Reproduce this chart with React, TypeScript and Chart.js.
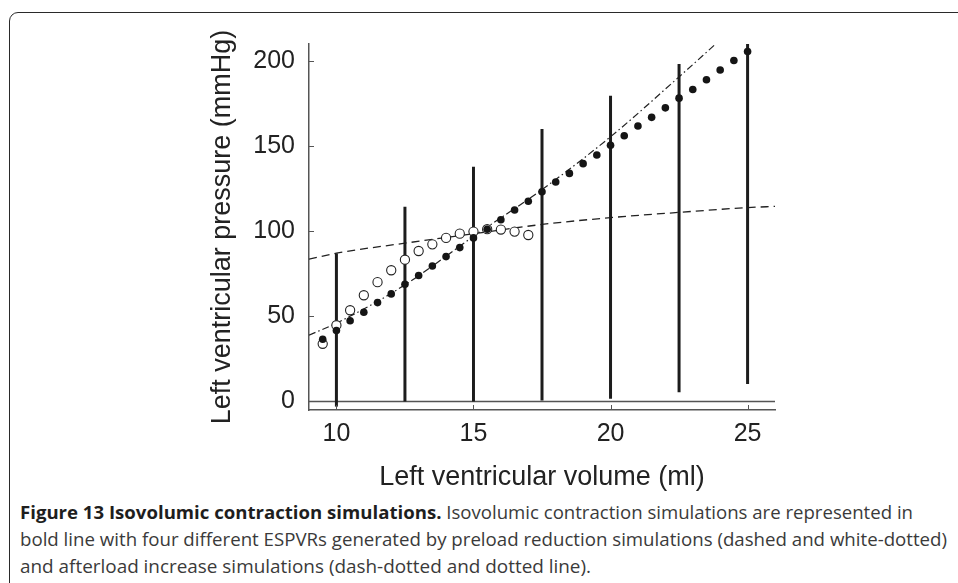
import React, { useEffect, useLayoutEffect, useRef } from "react";
import { Chart, registerables } from "chart.js";

Chart.register(...registerables);

// ---- Axis ticks ----
const xTicks = [10, 15, 20, 25];
const yTicks = [0, 50, 100, 150, 200];

// ---- Isovolumic contraction simulations (bold vertical lines) ----
const isoVolumes = [10, 12.5, 15, 17.5, 20, 22.5, 25];
const isoBottoms = [-3, 0, 0, 0.6, 1.6, 5.5, 10.2];
const isoTops = [87, 114.4, 137.9, 160, 179.6, 198.2, 210];

// ---- Preload reduction ESPVR (dashed) ----
const preloadLineX = [9, 10, 12.5, 15, 17.5, 20, 22.5, 25, 26];
const preloadLineY = [83.6, 87.1, 93, 98.5, 104, 108, 111.1, 113.9, 114.6];

// ---- Afterload increase ESPVR (dash-dotted) ----
const afterloadLineX = [9, 10, 12.5, 15, 17.5, 20, 22.5, 23.8];
const afterloadLineY = [39, 46, 68.5, 97, 124.5, 155.5, 190.7, 209.5];

// ---- Preload reduction points (white dots) ----
const openX = [9.5, 10, 10.5, 11, 11.5, 12, 12.5, 13, 13.5, 14, 14.5, 15, 15.5, 16, 16.5, 17];
const openY = [33.9, 44.8, 53.6, 62.4, 70.1, 77.1, 83.3, 88.4, 92.3, 96.1, 98.6, 99.8, 101.2, 101, 99.8, 97.8];

// ---- Afterload increase points (black dots) ----
const filledX = [
  9.5, 10, 10.5, 11, 11.5, 12, 12.5, 13, 13.5, 14, 14.5, 15, 15.5, 16, 16.5, 17,
  17.5, 18, 18.5, 19, 19.5, 20, 20.5, 21, 21.5, 22, 22.5, 23, 23.5, 24, 24.5, 25,
];
const filledY = [
  36.6, 41.7, 47.4, 52.4, 58.1, 63.2, 68.9, 74, 79.6, 85.1, 90.4, 96.1, 101.2, 106.8, 112.5, 117.6,
  123.2, 128.9, 134, 139.7, 144.8, 150.5, 156.1, 161.8, 166.9, 172.5, 178.2, 183.3, 189, 194.7, 200.3, 205.6,
];

const zeroLineX = [9, 26];

const FONT = "'Liberation Sans', Arial, Helvetica, sans-serif";

const pts = (xs: number[], ys: number[]) => xs.map((x, i) => ({ x, y: ys[i] }));

const inwardTicks = {
  id: "inwardTicks",
  afterDraw(chart: any) {
    const { ctx, chartArea, scales } = chart;
    ctx.save();
    ctx.strokeStyle = "#555";
    ctx.lineWidth = 1;
    for (const v of xTicks) {
      const px = Math.round(scales.x.getPixelForValue(v)) + 0.5;
      ctx.beginPath();
      ctx.moveTo(px, chartArea.bottom);
      ctx.lineTo(px, chartArea.bottom - 5);
      ctx.stroke();
    }
    for (const v of yTicks) {
      const py = Math.round(scales.y.getPixelForValue(v)) + 0.5;
      ctx.beginPath();
      ctx.moveTo(chartArea.left, py);
      ctx.lineTo(chartArea.left + 5, py);
      ctx.stroke();
    }
    ctx.restore();
  },
};

function FitLine({ top, width, children }: { top: number; width: number; children: React.ReactNode }) {
  const ref = useRef<HTMLDivElement>(null);
  useLayoutEffect(() => {
    const el = ref.current;
    if (!el) return;
    el.style.transform = "none";
    const w = el.getBoundingClientRect().width;
    if (w > 0) el.style.transform = `scaleX(${width / w})`;
  }, [width]);
  return (
    <div
      ref={ref}
      style={{
        position: "absolute",
        left: 20,
        top,
        whiteSpace: "nowrap",
        transformOrigin: "left top",
        fontFamily: "'Open Sans', 'Noto Sans', sans-serif",
        fontSize: 18.5,
        lineHeight: "24px",
        color: "#3a3a3a",
      }}
    >
      {children}
    </div>
  );
}

const CANVAS_W = 600;
const CANVAS_H = 475;

export default function App() {
  const canvasRef = useRef<HTMLCanvasElement>(null);

  useEffect(() => {
    if (!canvasRef.current) return;
    const isoDatasets = isoVolumes.map((v, i) => ({
      type: "scatter" as const,
      data: [
        { x: v, y: isoBottoms[i] },
        { x: v, y: isoTops[i] },
      ],
      showLine: true,
      borderColor: "#1c1c1c",
      borderWidth: 3,
      pointRadius: 0,
      order: 2,
    }));

    const chart = new Chart(canvasRef.current, {
      type: "scatter",
      data: {
        datasets: [
          {
            data: pts(filledX, filledY),
            pointRadius: 3.8,
            pointBackgroundColor: "#151515",
            pointBorderColor: "#151515",
            pointBorderWidth: 0,
            showLine: false,
            order: 0,
          },
          {
            data: pts(openX, openY),
            pointRadius: 4.6,
            pointBackgroundColor: "#ffffff",
            pointBorderColor: "#222",
            pointBorderWidth: 1.1,
            showLine: false,
            order: 1,
          },
          ...isoDatasets,
          {
            data: pts(preloadLineX, preloadLineY),
            showLine: true,
            borderColor: "#222",
            borderWidth: 1.3,
            borderDash: [8, 5],
            pointRadius: 0,
            cubicInterpolationMode: "monotone",
            order: 3,
          },
          {
            data: pts(afterloadLineX, afterloadLineY),
            showLine: true,
            borderColor: "#222",
            borderWidth: 1.2,
            borderDash: [7, 3, 1.5, 3],
            pointRadius: 0,
            cubicInterpolationMode: "monotone",
            order: 3,
          },
          {
            data: zeroLineX.map((x) => ({ x, y: 0 })),
            showLine: true,
            borderColor: "#555",
            borderWidth: 1.3,
            pointRadius: 0,
            order: 4,
          },
        ] as any,
      },
      options: {
        animation: false,
        responsive: false,
        devicePixelRatio: 1,
        layout: { padding: { top: 24, right: 15, left: 0, bottom: 0 } },
        plugins: {
          legend: { display: false },
          tooltip: { enabled: false },
        },
        scales: {
          x: {
            type: "linear",
            min: 9,
            max: 26,
            afterBuildTicks: (s: any) => {
              s.ticks = xTicks.map((v) => ({ value: v }));
            },
            afterFit: (s: any) => {
              s.height = 85;
              s.paddingLeft = 0;
              s.paddingRight = 0;
            },
            grid: { display: false, drawTicks: false },
            border: { display: true, color: "#555", width: 1.5 },
            ticks: {
              padding: 9,
              color: "#222",
              maxRotation: 0,
              font: { family: FONT, size: 25 },
            },
            title: {
              display: true,
              text: "Left ventricular volume (ml)",
              color: "#222",
              font: { family: FONT, size: 27 },
              padding: { top: 0, bottom: 1 },
            },
          },
          y: {
            type: "linear",
            min: -5,
            max: 210,
            afterBuildTicks: (s: any) => {
              s.ticks = yTicks.map((v) => ({ value: v }));
            },
            afterFit: (s: any) => {
              s.width = 119;
              s.paddingTop = 0;
              s.paddingBottom = 0;
            },
            grid: { display: false, drawTicks: false },
            border: { display: true, color: "#555", width: 1.5 },
            ticks: {
              padding: 14,
              color: "#222",
              font: { family: FONT, size: 25 },
            },
            title: {
              display: true,
              text: "Left ventricular pressure (mmHg)",
              color: "#222",
              font: { family: FONT, size: 27 },
              padding: { top: 16, bottom: 0 },
            },
          },
        },
      } as any,
      plugins: [inwardTicks],
    });

    return () => chart.destroy();
  }, []);

  return (
    <div
      style={{
        position: "fixed",
        left: 0,
        top: 0,
        width: 958,
        height: 583,
        overflow: "hidden",
        background: "#fff",
      }}
    >
      <div
        style={{
          position: "absolute",
          left: 9,
          top: 12,
          width: 1000,
          height: 700,
          border: "1.5px solid #2a2a2a",
          borderRadius: 9,
          boxSizing: "border-box",
        }}
      />
      <canvas
        ref={canvasRef}
        width={CANVAS_W}
        height={CANVAS_H}
        style={{ position: "absolute", left: 190, top: 20, width: CANVAS_W, height: CANVAS_H }}
      />
      <FitLine top={500} width={893}>
        <span style={{ fontWeight: 700, color: "#1e1e1e" }}>Figure 13 Isovolumic contraction simulations.</span>{" "}
        Isovolumic contraction simulations are represented in
      </FitLine>
      <FitLine top={527} width={927}>
        bold line with four different ESPVRs generated by preload reduction simulations (dashed and white-dotted)
      </FitLine>
      <FitLine top={554} width={571}>
        and afterload increase simulations (dash-dotted and dotted line).
      </FitLine>
    </div>
  );
}
